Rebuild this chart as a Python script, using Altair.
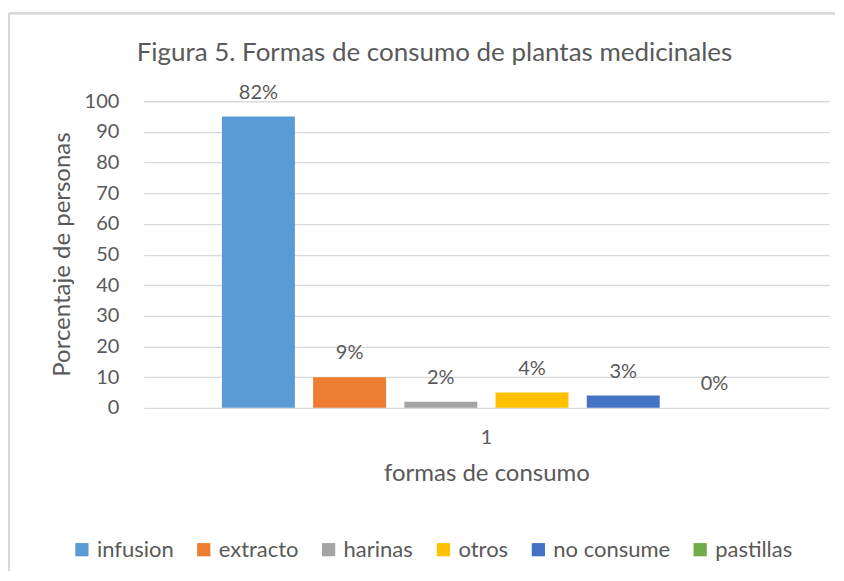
import altair as alt
import pandas as pd

series = ["infusion", "extracto", "harinas", "otros", "no consume", "pastillas"]
values = [95, 10, 2, 5, 4, 0]
labels = ["82%", "9%", "2%", "4%", "3%", "0%"]
colors = ["#5B9BD5", "#ED7D31", "#A5A5A5", "#FFC000", "#4472C4", "#70AD47"]
category = "1"
y_ticks = [0, 10, 20, 30, 40, 50, 60, 70, 80, 90, 100]
chart_title = "Figura 5. Formas de consumo de plantas medicinales"

df = pd.DataFrame({"cat": [category] * len(series), "serie": series,
                   "valor": values, "etiqueta": labels})
title_df = pd.DataFrame({"t": [chart_title]})

FONT = "Lato"
GREY = "#595959"

x_enc = alt.X("cat:N", scale=alt.Scale(paddingInner=0, paddingOuter=0.126),
              axis=alt.Axis(title="formas de consumo", labelAngle=0, domain=False,
                            ticks=False, labelPadding=20, titlePadding=14,
                            labelFontSize=20, titleFontSize=24,
                            labelColor=GREY, titleColor=GREY,
                            labelFont=FONT, titleFont=FONT, titleFontWeight="normal"))
xo_enc = alt.XOffset("serie:N", sort=series,
                     scale=alt.Scale(paddingInner=0.2, paddingOuter=0.1))
y_enc = alt.Y("valor:Q", scale=alt.Scale(domain=[0, 100], nice=False),
              axis=alt.Axis(values=y_ticks, title="Porcentaje  de personas",
                            domain=False, ticks=False, labelPadding=25,
                            labelOverlap=False,
                            gridColor="#D9D9D9", gridWidth=1.3,
                            labelFontSize=20, titleFontSize=24,
                            labelColor=GREY, titleColor=GREY,
                            labelFont=FONT, titleFont=FONT, titleFontWeight="normal",
                            titleX=-81, titleY=153, titleAngle=270,
                            titleAlign="center", titleBaseline="middle"))

base = alt.Chart(df).encode(x=x_enc, xOffset=xo_enc, y=y_enc)

bars = base.mark_bar().encode(
    color=alt.Color("serie:N", sort=series,
                    scale=alt.Scale(domain=series, range=colors),
                    legend=alt.Legend(title=None, orient="none", direction="horizontal",
                                      legendX=-73, legendY=438,
                                      symbolType="square", symbolSize=175,
                                      symbolStrokeWidth=0,
                                      labelFontSize=22, labelColor=GREY, labelFont=FONT,
                                      labelOffset=4, columnPadding=19)),
)

text = base.mark_text(baseline="middle", dy=-24, fontSize=20,
                      font=FONT, color=GREY).encode(text="etiqueta:N")

title_mark = alt.Chart(title_df).mark_text(baseline="middle", align="center",
                                           fontSize=26, font=FONT, color=GREY).encode(
    x=alt.value(291), y=alt.value(-48), text="t:N")

border_left = alt.Chart(df).mark_rule(color="#D9D9D9", strokeWidth=2).encode(
    x=alt.value(-135), y=alt.value(-88), y2=alt.value(470))
border_top = alt.Chart(df).mark_rule(color="#D9D9D9", strokeWidth=2).encode(
    x=alt.value(-135), x2=alt.value(692), y=alt.value(-88))

chart = alt.layer(border_left, border_top, title_mark, bars, text).properties(
    width=686, height=307,
    padding={"left": 0, "top": 4, "right": 0, "bottom": 0},
).configure_view(stroke=None)

chart.save("out.html", embed_options={"renderer": "svg", "actions": False})
